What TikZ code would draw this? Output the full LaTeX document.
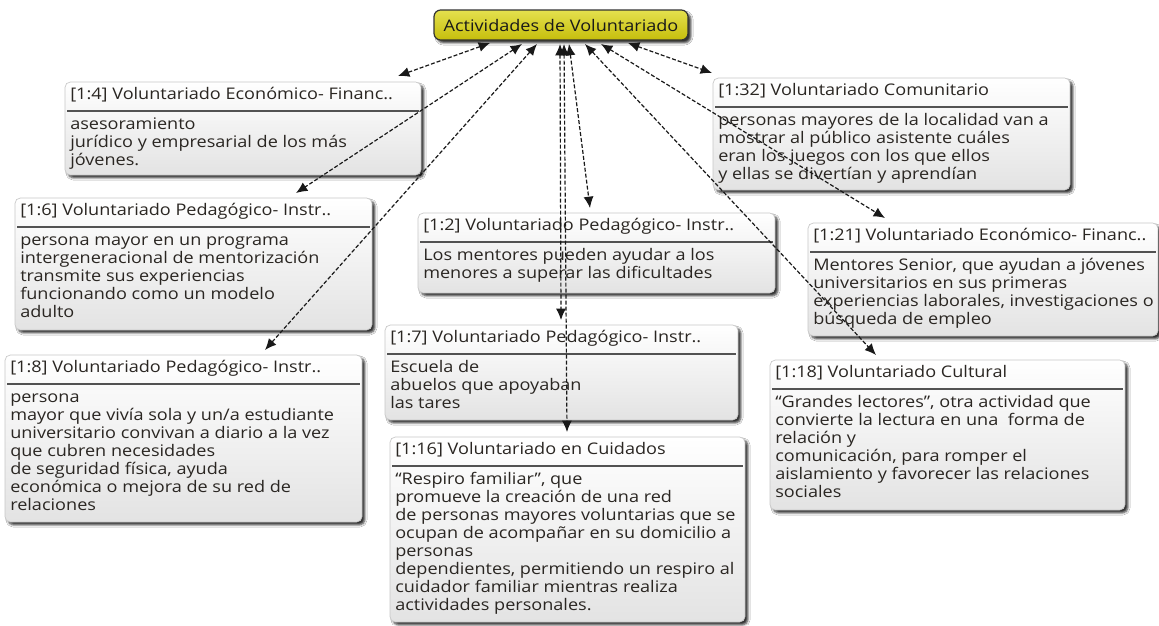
\documentclass[tikz,border=0pt]{standalone}
\usepackage{fontspec}
\setmainfont{Open Sans}[FakeStretch=1.13]
\usetikzlibrary{calc,arrows.meta,shadows.blur}

\definecolor{inkc}{HTML}{2A2622}
\definecolor{olivetop}{RGB}{228,224,78}
\definecolor{olivebot}{RGB}{198,190,12}
\newcommand\txtfont{\fontsize{12}{13.5}\selectfont}

% one note card: name, left, top, right, bottom (px), header, body
\newcommand\vcard[7]{%
  \node[card, anchor=north west,
        minimum width={(#4-#2)*0.75pt}, minimum height={(#5-#3)*0.75pt}] (#1) at (#2,#3) {};
  \node[hdr, anchor=west] (#1-h) at ($(#1.north west)+(5,14)$) {#6};
  \draw[cardrule] ($(#1.north west)+(2,29)$) -- ($(#1.north east)+(-2,29)$);
  \node[bodytxt, anchor=north west] (#1-b) at ($(#1.north west)+(5,35)$) {\strut #7};
}

\begin{document}
\begin{tikzpicture}[x=0.75pt,y=-0.75pt,
  card/.style={rectangle, rounded corners=4pt, draw=black!22, line width=0.5pt,
    top color=white, bottom color=black!11, outer sep=0pt, inner sep=0pt,
    blur shadow={shadow xshift=2.2pt, shadow yshift=-2.2pt,
      shadow blur radius=1.6pt, shadow opacity=80}},
  hdr/.style={inner sep=0pt, text=inkc, font=\txtfont, text height=0.75em, text depth=0.25em},
  bodytxt/.style={inner sep=0pt, text=inkc, font=\txtfont, align=left},
  cardrule/.style={draw=black!68, line width=1.2pt},
  titlebox/.style={rectangle, rounded corners=5pt, draw=black!80, line width=0.9pt,
    top color=olivetop, bottom color=olivebot, text=black!90,
    font=\fontsize{12}{13}\selectfont, outer sep=0pt,
    minimum width=190.5pt, minimum height=22.5pt,
    blur shadow={shadow xshift=2.2pt, shadow yshift=-2.2pt,
      shadow blur radius=1.6pt, shadow opacity=80}},
  link/.style={draw=black!90, line width=0.9pt, dash pattern=on 3pt off 1.5pt,
    {Latex[length=8.5pt,width=7.5pt]}-{Latex[length=8.5pt,width=7.5pt]}}
]
\fill[white] (0,0) rectangle (1159,625);
\useasboundingbox (0,0) rectangle (1159,625);

% central topic
\node[titlebox] (T) at (561,25) {Actividades de Voluntariado};

% note cards
\vcard{b4}{65}{82}{421}{175}{[1:4] Voluntariado Económico- Financ..}
  {asesoramiento\\jurídico y empresarial de los más\\jóvenes.}
\vcard{b32}{713}{78}{1070}{190}{[1:32] Voluntariado Comunitario}
  {personas mayores de la localidad van a\\mostrar al público asistente cuáles\\eran los juegos con los que ellos\\y ellas se divertían y aprendían}
\vcard{b6}{15}{198}{372}{330}{[1:6] Voluntariado Pedagógico- Instr..}
  {persona mayor en un programa\\intergeneracional de mentorización\\transmite sus experiencias\\funcionando como un modelo\\adulto}
\vcard{b2}{418}{213}{775}{293}{[1:2] Voluntariado Pedagógico- Instr..}
  {Los mentores pueden ayudar a los\\menores a superar las dificultades}
\vcard{b21}{808}{223}{1158}{336}{[1:21] Voluntariado Económico- Financ..}
  {Mentores Senior, que ayudan a jóvenes\\universitarios en sus primeras\\experiencias laborales, investigaciones o\\búsqueda de empleo}
\vcard{b8}{5}{355}{362}{522}{[1:8] Voluntariado Pedagógico- Instr..}
  {persona\\mayor que vivía sola y un/a estudiante\\universitario convivan a diario a la vez\\que cubren necesidades\\de seguridad física, ayuda\\económica o mejora de su red de\\relaciones}
\vcard{b7}{385}{325}{738}{420}{[1:7] Voluntariado Pedagógico- Instr..}
  {Escuela de\\abuelos que apoyaban\\las tares}
\vcard{b18}{770}{360}{1125}{510}{[1:18] Voluntariado Cultural}
  {“Grandes lectores”, otra actividad que\\convierte la lectura en una \ forma de\\relación y\\comunicación, para romper el\\aislamiento y favorecer las relaciones\\sociales}
\vcard{b16}{390}{437}{745}{622}{[1:16] Voluntariado en Cuidados}
  {“Respiro familiar”, que\\promueve la creación de una red\\de personas mayores voluntarias que se\\ocupan de acompañar en su domicilio a\\personas\\dependientes, permitiendo un respiro al\\cuidador familiar mientras realiza\\actividades personales.}

% links from the central topic to every card
\draw[link] ($(T.south west)+(56,3)$)  -- ($(b4.north west)+(333,-6)$);
\draw[link] ($(T.south west)+(88,4)$)  -- ($(b6.north west)+(281,-5)$);
\draw[link] ($(T.south west)+(103,4)$) -- ($(b8.north west)+(260,-5)$);
\draw[link] ($(T.south west)+(126,4)$) -- ($(b7.north west)+(176,-5)$);
\draw[link] ($(T.south west)+(130,4)$) -- ($(b16.north west)+(177,-5)$);
\draw[link] ($(T.south west)+(135,4)$) -- ($(b2.north west)+(172,-5)$);
\draw[link] ($(T.south west)+(151,4)$) -- ($(b18.north west)+(106,-5)$);
\draw[link] ($(T.south west)+(167,4)$) -- ($(b21.north west)+(77,-5)$);
\draw[link] ($(T.south west)+(194,3)$) -- ($(b32.north west)+(-1,-5)$);
\end{tikzpicture}
\end{document}
